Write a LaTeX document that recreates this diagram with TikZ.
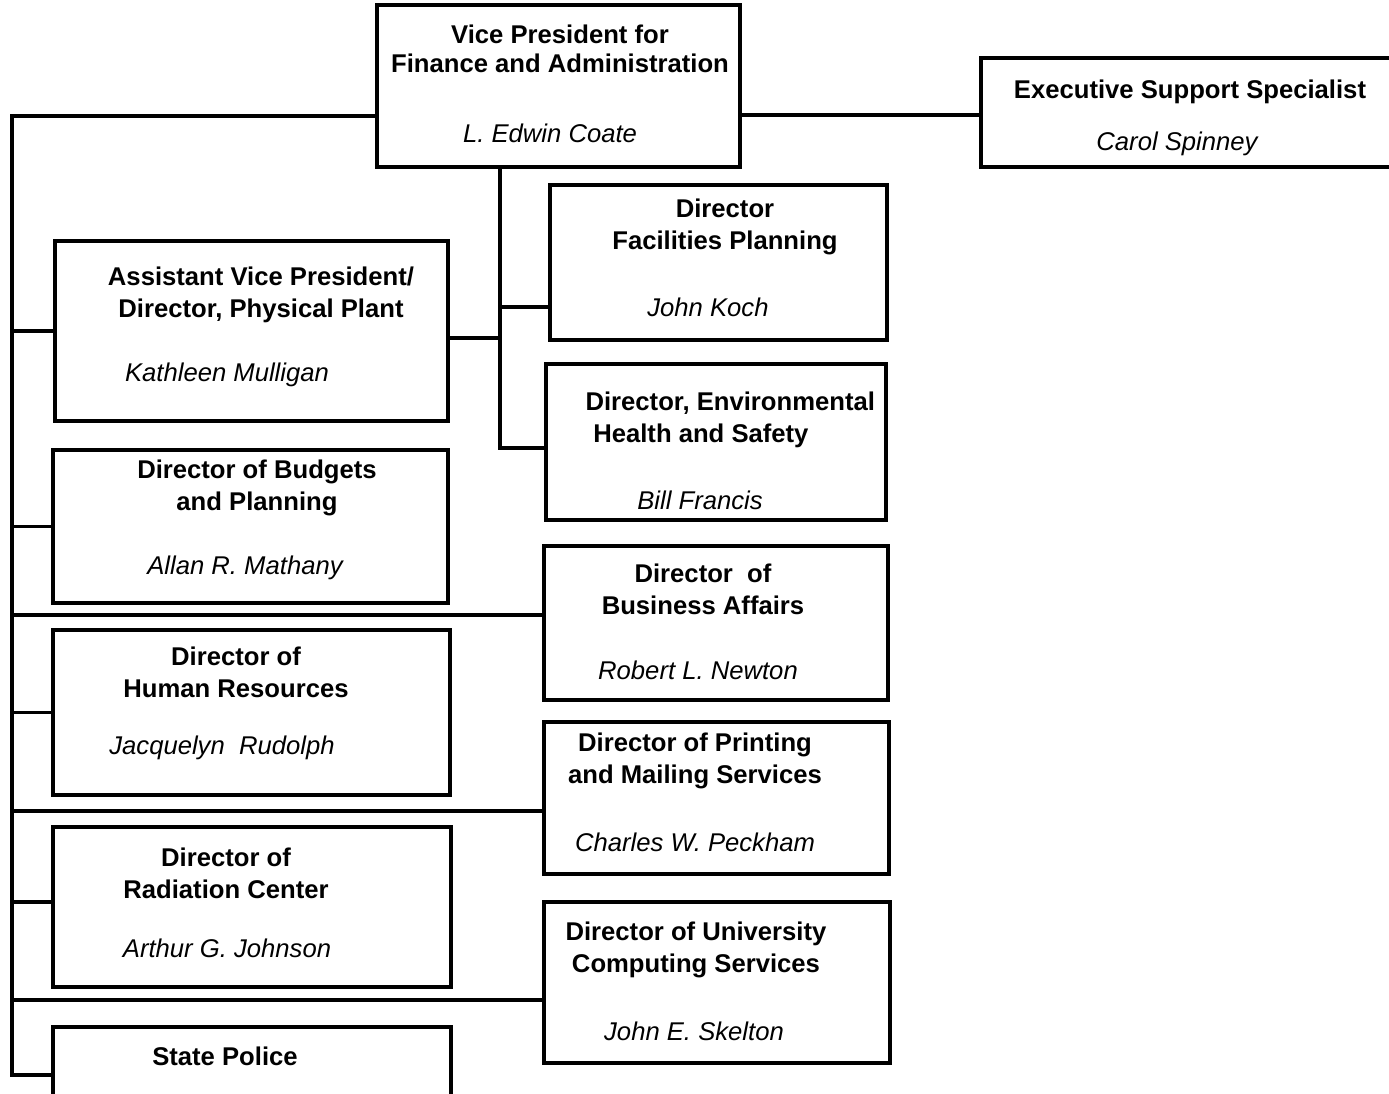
\documentclass[tikz,border=0pt]{standalone}
\usepackage{fontspec}
\setmainfont{Liberation Sans}
\usetikzlibrary{fit}
\begin{document}
\begin{tikzpicture}[x=0.02cm,y=-0.02cm,line width=1.8pt,
    unit/.style={draw,inner sep=0pt,outer sep=0pt},
    title/.style={font=\bfseries\fontsize{14.6}{18.1}\selectfont,align=center,inner sep=0pt},
    person/.style={font=\itshape\fontsize{14.6}{17.5}\selectfont,inner sep=0pt}]
    \clip (0,0) rectangle (1389,1093);
    \useasboundingbox (0,0) rectangle (1389,1093);
    % boxes
    \node[unit,fit={(377,5) (740,167)}] (vp) {};
    \node[unit,fit={(981,58) (1400,167)}] (exec) {};
    \node[unit,fit={(550,185) (887,340)}] (fac) {};
    \node[unit,fit={(55,241) (448,421)}] (asst) {};
    \node[unit,fit={(546,364) (886,520)}] (env) {};
    \node[unit,fit={(53,450) (448,603)}] (budget) {};
    \node[unit,fit={(544,546) (888,700)}] (biz) {};
    \node[unit,fit={(53,630) (450,795)}] (hr) {};
    \node[unit,fit={(544,722) (889,874)}] (print) {};
    \node[unit,fit={(53,827) (451,987)}] (rad) {};
    \node[unit,fit={(544,902) (890,1063)}] (comp) {};
    \node[unit,fit={(53,1027) (451,1110)}] (police) {};
    % titles
    \node[title] (vptitle) at (560,49) {Vice President for\\[-1.5pt]Finance and Administration};
    \node[title] (exectitle) at (1190,92) {Executive Support Specialist};
    \node[title] (factitle) at (725,227) {Director\\Facilities Planning};
    \node[title] (assttitle) at (261,295) {Assistant Vice President/\\Director, Physical Plant};
    \node[title,align=left,anchor=west] (envtitle) at (584,420) {Director, Environmental\\\hspace{0.3em}Health and Safety};
    \node[title] (budgettitle) at (257,488) {Director of Budgets\\and Planning};
    \node[title] (biztitle) at (703,589) {Director~ of\\Business Affairs};
    \node[title] (hrtitle) at (236,672) {Director of\\Human Resources};
    \node[title] (printtitle) at (695,761) {Director of Printing\\and Mailing Services};
    \node[title] (radtitle) at (226,873) {Director of\\Radiation Center};
    \node[title] (comptitle) at (696,950) {Director of University\\Computing Services};
    \node[title] (policetitle) at (225,1056) {State Police};
    % people
    \node[person] (vpname) at (550,133) {L. Edwin Coate};
    \node[person] (execname) at (1177,144) {Carol Spinney};
    \node[person] (facname) at (708,307) {John Koch};
    \node[person] (asstname) at (227,375) {Kathleen Mulligan};
    \node[person] (envname) at (700,500) {Bill Francis};
    \node[person] (budgetname) at (245,568) {Allan R. Mathany};
    \node[person] (bizname) at (698,670) {Robert L. Newton};
    \node[person] (hrname) at (222,748) {Jacquelyn~ Rudolph};
    \node[person] (printname) at (695,842) {Charles W. Peckham};
    \node[person] (radname) at (227,948) {Arthur G. Johnson};
    \node[person] (compname) at (694,1031) {John E. Skelton};
    % lines
    \coordinate (bustop) at (12,116);
    \coordinate (busend) at (12,1075);
    \coordinate (trunk) at (500,448);
    \draw (vp.west |- bustop) -- (bustop) -- (busend) -- (busend -| police.west);
    \draw (bustop |- asst.west) -- (asst.west);
    \draw (bustop |- budget.west) -- (budget.west);
    \draw (bustop |- 0,615) -- (biz.west |- 0,615);
    \draw (bustop |- hr.west) -- (hr.west);
    \draw (bustop |- 0,811) -- (print.west |- 0,811);
    \draw (bustop |- 0,902) -- (rad.west |- 0,902);
    \draw (bustop |- 0,1000) -- (comp.west |- 0,1000);
    \draw (vp.east |- 0,115) -- (exec.west |- 0,115);
    \draw (vp.south -| trunk) -- (trunk) -- (env.west |- trunk);
    \draw (trunk |- 0,307) -- (fac.west |- 0,307);
    \draw (asst.east |- 0,338) -- (trunk |- 0,338);
\end{tikzpicture}
\end{document}
